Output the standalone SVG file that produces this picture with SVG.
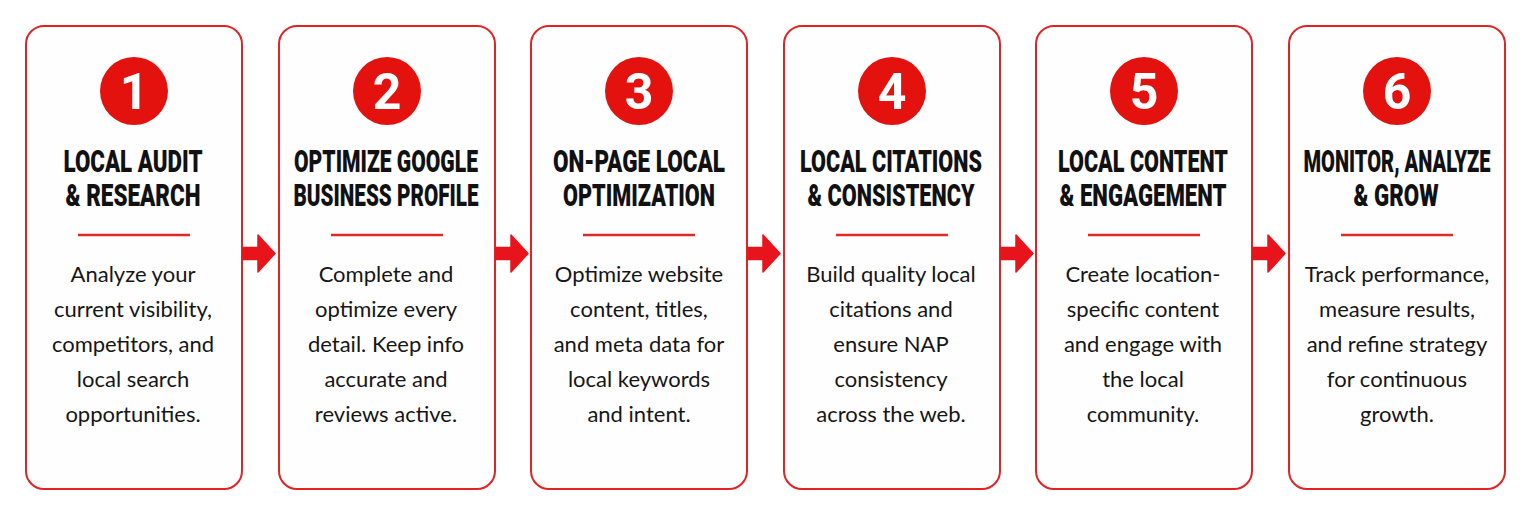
<svg xmlns="http://www.w3.org/2000/svg" width="1531" height="518" viewBox="0 0 1531 518">
  <style>
    .card { fill: #fefefe; stroke: #e02424; stroke-width: 2; }
    .badge { fill: #e3120f; }
    .num { font-family: Roboto, "Liberation Sans", sans-serif; font-weight: 700; font-size: 50px; fill: #ffffff; text-anchor: middle; }
    .title { font-family: Roboto, "Liberation Sans", sans-serif; font-weight: 900; font-size: 31px; fill: #111111; text-anchor: middle; }
    .rule { stroke: #e02a2a; stroke-width: 2.5; }
    .body { font-family: Lato, "Open Sans", sans-serif; font-size: 22px; fill: #161616; text-anchor: middle; }
    .arrow { fill: #e8141c; stroke: #e8141c; stroke-width: 1.5; stroke-linejoin: round; }
  </style>
  <rect width="1531" height="518" fill="#ffffff"/>

  <g id="step1">
    <rect class="card" x="26" y="26" width="216" height="463" rx="18"/>
    <circle class="badge" cx="134" cy="91" r="34"/>
    <text class="num" x="134" y="109">1</text>
    <text class="title" x="133" y="172" textLength="139" lengthAdjust="spacingAndGlyphs">LOCAL AUDIT</text>
    <text class="title" x="133" y="206" textLength="135" lengthAdjust="spacingAndGlyphs">&amp; RESEARCH</text>
    <line class="rule" x1="78" y1="235" x2="190" y2="235"/>
    <text class="body" x="133" y="282">Analyze your</text>
    <text class="body" x="133" y="317">current visibility,</text>
    <text class="body" x="133" y="352">competitors, and</text>
    <text class="body" x="133" y="387">local search</text>
    <text class="body" x="133" y="422">opportunities.</text>
  </g>

  <g id="step2">
    <rect class="card" x="279" y="26" width="216" height="463" rx="18"/>
    <circle class="badge" cx="387" cy="91" r="34"/>
    <text class="num" x="387" y="109">2</text>
    <text class="title" x="386" y="172" textLength="184" lengthAdjust="spacingAndGlyphs">OPTIMIZE GOOGLE</text>
    <text class="title" x="386" y="206" textLength="185" lengthAdjust="spacingAndGlyphs">BUSINESS PROFILE</text>
    <line class="rule" x1="331" y1="235" x2="443" y2="235"/>
    <text class="body" x="386" y="282">Complete and</text>
    <text class="body" x="386" y="317">optimize every</text>
    <text class="body" x="386" y="352">detail. Keep info</text>
    <text class="body" x="386" y="387">accurate and</text>
    <text class="body" x="386" y="422">reviews active.</text>
  </g>

  <g id="step3">
    <rect class="card" x="531" y="26" width="216" height="463" rx="18"/>
    <circle class="badge" cx="639" cy="91" r="34"/>
    <text class="num" x="639" y="109">3</text>
    <text class="title" x="639" y="172" textLength="172" lengthAdjust="spacingAndGlyphs">ON-PAGE LOCAL</text>
    <text class="title" x="639" y="206" textLength="152" lengthAdjust="spacingAndGlyphs">OPTIMIZATION</text>
    <line class="rule" x1="583" y1="235" x2="695" y2="235"/>
    <text class="body" x="639" y="282">Optimize website</text>
    <text class="body" x="639" y="317">content, titles,</text>
    <text class="body" x="639" y="352">and meta data for</text>
    <text class="body" x="639" y="387">local keywords</text>
    <text class="body" x="639" y="422">and intent.</text>
  </g>

  <g id="step4">
    <rect class="card" x="784" y="26" width="216" height="463" rx="18"/>
    <circle class="badge" cx="892" cy="91" r="34"/>
    <text class="num" x="892" y="109">4</text>
    <text class="title" x="891" y="172" textLength="182" lengthAdjust="spacingAndGlyphs">LOCAL CITATIONS</text>
    <text class="title" x="891" y="206" textLength="167" lengthAdjust="spacingAndGlyphs">&amp; CONSISTENCY</text>
    <line class="rule" x1="836" y1="235" x2="948" y2="235"/>
    <text class="body" x="891" y="282">Build quality local</text>
    <text class="body" x="891" y="317">citations and</text>
    <text class="body" x="891" y="352">ensure NAP</text>
    <text class="body" x="891" y="387">consistency</text>
    <text class="body" x="891" y="422">across the web.</text>
  </g>

  <g id="step5">
    <rect class="card" x="1036" y="26" width="216" height="463" rx="18"/>
    <circle class="badge" cx="1144" cy="91" r="34"/>
    <text class="num" x="1144" y="109">5</text>
    <text class="title" x="1143" y="172" textLength="170" lengthAdjust="spacingAndGlyphs">LOCAL CONTENT</text>
    <text class="title" x="1143" y="206" textLength="167" lengthAdjust="spacingAndGlyphs">&amp; ENGAGEMENT</text>
    <line class="rule" x1="1088" y1="235" x2="1200" y2="235"/>
    <text class="body" x="1143" y="282">Create location-</text>
    <text class="body" x="1143" y="317">specific content</text>
    <text class="body" x="1143" y="352">and engage with</text>
    <text class="body" x="1143" y="387">the local</text>
    <text class="body" x="1143" y="422">community.</text>
  </g>

  <g id="step6">
    <rect class="card" x="1289" y="26" width="216" height="463" rx="18"/>
    <circle class="badge" cx="1397" cy="91" r="34"/>
    <text class="num" x="1397" y="109">6</text>
    <text class="title" x="1397" y="172" textLength="187" lengthAdjust="spacingAndGlyphs">MONITOR, ANALYZE</text>
    <text class="title" x="1396" y="206" textLength="85" lengthAdjust="spacingAndGlyphs">&amp; GROW</text>
    <line class="rule" x1="1341" y1="235" x2="1453" y2="235"/>
    <text class="body" x="1397" y="282">Track performance,</text>
    <text class="body" x="1397" y="317">measure results,</text>
    <text class="body" x="1397" y="352">and refine strategy</text>
    <text class="body" x="1397" y="387">for continuous</text>
    <text class="body" x="1397" y="422">growth.</text>
  </g>

  <g id="connectors">
    <path class="arrow" d="M243 247.5 H258 V235 L275 253.5 L258 272 V259.5 H243 Z"/>
    <path class="arrow" d="M496 247.5 H511 V235 L528 253.5 L511 272 V259.5 H496 Z"/>
    <path class="arrow" d="M748 247.5 H763 V235 L780 253.5 L763 272 V259.5 H748 Z"/>
    <path class="arrow" d="M1001 247.5 H1016 V235 L1033 253.5 L1016 272 V259.5 H1001 Z"/>
    <path class="arrow" d="M1253 247.5 H1268 V235 L1285 253.5 L1268 272 V259.5 H1253 Z"/>
  </g>
</svg>
